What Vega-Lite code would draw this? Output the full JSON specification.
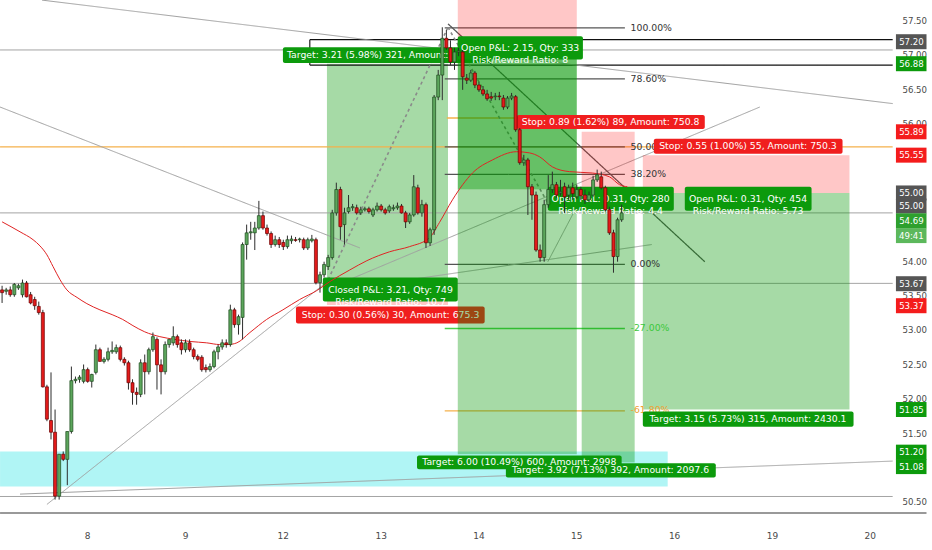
{
"$schema":"https://vega.github.io/schema/vega-lite/v6.json",
"width":898,"height":518,"autosize":{"type":"none"},"padding":{"left":0,"top":0,"right":34,"bottom":32},"background":"#ffffff",
"config":{"view":{"stroke":null},"font":"DejaVu Sans"},
"resolve":{"scale":{"fill":"independent","color":"independent","strokeWidth":"independent","strokeDash":"independent"}},
"datasets":{
"fills":[
{"t1":-0.5,"t2":163.3,"p1":51.24,"p2":50.73,"kind":"cyan","g":"A"},
{"t1":79.7,"t2":109.4,"p1":56.88,"p2":53.67,"kind":"green","g":"A"},
{"t1":79.7,"t2":109.4,"p1":53.67,"p2":53.37,"kind":"pink","g":"A"},
{"t1":111.8,"t2":141.0,"p1":57.805,"p2":57.25,"kind":"pink","g":"B"},
{"t1":111.8,"t2":141.0,"p1":57.25,"p2":55.05,"kind":"greenDark","g":"B"},
{"t1":111.8,"t2":141.0,"p1":55.05,"p2":51.20,"kind":"green","g":"B"},
{"t1":142.2,"t2":155.2,"p1":55.89,"p2":55.00,"kind":"pink","g":"B"},
{"t1":142.2,"t2":155.2,"p1":55.00,"p2":51.08,"kind":"green","g":"B"},
{"t1":157.2,"t2":207.9,"p1":55.55,"p2":55.00,"kind":"pink","g":"B"},
{"t1":157.2,"t2":207.9,"p1":55.00,"p2":51.85,"kind":"green","g":"B"}
],
"lines":[
{"t1":-0.5,"p1":53.685,"t2":218.5,"p2":53.685,"kind":"gray"},
{"t1":-0.5,"p1":54.71,"t2":218.5,"p2":54.71,"kind":"gray"},
{"t1":-0.5,"p1":57.08,"t2":218.5,"p2":57.08,"kind":"gray"},
{"t1":-0.5,"p1":50.585,"t2":218.5,"p2":50.585,"kind":"gray"},
{"t1":75.5,"p1":57.23,"t2":218.5,"p2":57.23,"kind":"black"},
{"t1":75.5,"p1":56.86,"t2":218.5,"p2":56.86,"kind":"black"},
{"t1":75.5,"p1":57.23,"t2":75.5,"p2":56.86,"kind":"black"},
{"t1":-0.5,"p1":55.67,"t2":218.5,"p2":55.67,"kind":"orange"},
{"t1":109.1,"p1":56.09,"t2":126.3,"p2":56.09,"kind":"orange"},
{"t1":108.6,"p1":57.40,"t2":152.8,"p2":57.40,"kind":"dark"},
{"t1":108.6,"p1":56.66,"t2":152.8,"p2":56.66,"kind":"dark"},
{"t1":108.6,"p1":55.67,"t2":152.8,"p2":55.67,"kind":"dark"},
{"t1":108.6,"p1":55.27,"t2":152.8,"p2":55.27,"kind":"dark"},
{"t1":108.6,"p1":53.96,"t2":152.8,"p2":53.96,"kind":"dark"},
{"t1":108.6,"p1":53.03,"t2":152.8,"p2":53.03,"kind":"fibgreen"},
{"t1":108.6,"p1":51.83,"t2":152.8,"p2":51.83,"kind":"orange"},
{"t1":9.8,"p1":57.805,"t2":218.5,"p2":56.30,"kind":"gray"},
{"t1":-0.5,"p1":56.25,"t2":87.8,"p2":54.20,"kind":"gray"},
{"t1":11.0,"p1":50.47,"t2":80.4,"p2":53.74,"kind":"gray"},
{"t1":79.2,"p1":53.59,"t2":185.9,"p2":56.25,"kind":"gray"},
{"t1":79.2,"p1":53.56,"t2":159.4,"p2":54.25,"kind":"gray"},
{"t1":109.4,"p1":57.46,"t2":172.4,"p2":54.00,"kind":"dark"},
{"t1":80.0,"p1":53.74,"t2":109.4,"p2":57.41,"kind":"dash"},
{"t1":109.4,"p1":57.41,"t2":134.9,"p2":54.75,"kind":"dash"},
{"t1":133.9,"p1":54.00,"t2":142.5,"p2":54.97,"kind":"gray"},
{"t1":4.4,"p1":50.62,"t2":218.5,"p2":51.10,"kind":"gray"}
],
"boxes":[
{"t1":68.9,"t2":119.9,"p1":57.12,"p2":56.89,"kind":"lg","g":"A"},
{"t1":78.7,"t2":111.8,"p1":53.77,"p2":53.42,"kind":"lg","g":"A"},
{"t1":72.1,"t2":118.4,"p1":53.35,"p2":53.10,"kind":"lr","g":"A"},
{"t1":111.8,"t2":142.5,"p1":57.28,"p2":56.94,"kind":"lg","g":"B"},
{"t1":126.3,"t2":172.4,"p1":56.135,"p2":55.93,"kind":"lr","g":"B"},
{"t1":159.9,"t2":206.2,"p1":55.79,"p2":55.57,"kind":"lr","g":"B"},
{"t1":133.9,"t2":164.8,"p1":55.09,"p2":54.74,"kind":"lg","g":"B"},
{"t1":167.5,"t2":198.6,"p1":55.09,"p2":54.74,"kind":"lg","g":"B"},
{"t1":157.2,"t2":208.9,"p1":51.82,"p2":51.60,"kind":"lg","g":"B"},
{"t1":101.8,"t2":152.0,"p1":51.18,"p2":50.98,"kind":"lg","g":"B"},
{"t1":123.6,"t2":175.1,"p1":51.07,"p2":50.86,"kind":"lg","g":"B"}
],
"texts":[
{"t":89.7,"p":57.005,"text":"Target: 3.21 (5.98%) 321, Amount:","g":"A"},
{"t":95.3,"p":53.595,"text":"Closed P&L: 3.21, Qty: 749\nRisk/Reward Ratio: 10.7","g":"A"},
{"t":95.3,"p":53.225,"text":"Stop: 0.30 (0.56%) 30, Amount: 675.3","g":"A"},
{"t":127.1,"p":57.11,"text":"Open P&L: 2.15, Qty: 333\nRisk/Reward Ratio: 8","g":"B"},
{"t":149.3,"p":56.03,"text":"Stop: 0.89 (1.62%) 89, Amount: 750.8","g":"B"},
{"t":183.0,"p":55.68,"text":"Stop: 0.55 (1.00%) 55, Amount: 750.3","g":"B"},
{"t":149.3,"p":54.915,"text":"Open P&L: 0.31, Qty: 280\nRisk/Reward Ratio: 4.4","g":"B"},
{"t":183.0,"p":54.915,"text":"Open P&L: 0.31, Qty: 454\nRisk/Reward Ratio: 5.73","g":"B"},
{"t":183.0,"p":51.71,"text":"Target: 3.15 (5.73%) 315, Amount: 2430.1","g":"B"},
{"t":126.9,"p":51.08,"text":"Target: 6.00 (10.49%) 600, Amount: 2998","g":"B"},
{"t":149.3,"p":50.965,"text":"Target: 3.92 (7.13%) 392, Amount: 2097.6","g":"B"}
],
"fib":[
{"p":57.40,"text":"100.00%","kind":"dark"},
{"p":56.66,"text":"78.60%","kind":"dark"},
{"p":55.67,"text":"50.00","kind":"dark"},
{"p":55.27,"text":"38.20%","kind":"dark"},
{"p":53.96,"text":"0.00%","kind":"dark"},
{"p":53.03,"text":"-27.00%","kind":"fibgreen"},
{"p":51.85,"text":"-61.80%","kind":"orange"}
],
"yticks":[{"p":50.5},{"p":51.5},{"p":52.0},{"p":52.5},{"p":53.0},{"p":53.5},{"p":54.0},{"p":56.0},{"p":56.5},{"p":57.0},{"p":57.5}],
"xticks":[{"t":21,"d":"8"},{"t":45,"d":"9"},{"t":69,"d":"12"},{"t":93,"d":"13"},{"t":117,"d":"14"},{"t":141,"d":"15"},{"t":165,"d":"16"},{"t":189,"d":"19"},{"t":213,"d":"20"}],
"plabels":[
{"p":57.20,"text":"57.20","kind":"gray"},
{"p":56.88,"text":"56.88","kind":"green"},
{"p":55.89,"text":"55.89","kind":"red"},
{"p":55.55,"text":"55.55","kind":"red"},
{"p":55.00,"text":"55.00","kind":"gray"},
{"p":54.81,"text":"55.00","kind":"gray"},
{"p":54.595,"text":"54.69","kind":"green2"},
{"p":54.38,"text":"49:41","kind":"green3"},
{"p":53.68,"text":"53.67","kind":"gray"},
{"p":53.36,"text":"53.37","kind":"red"},
{"p":51.85,"text":"51.85","kind":"green"},
{"p":51.23,"text":"51.20","kind":"green"},
{"p":51.02,"text":"51.08","kind":"green"}
],
"ma":[
{"t":0,"ma":54.58},{"t":4.4,"ma":54.435},{"t":7.6,"ma":54.32},{"t":9.3,"ma":54.23},{"t":11.0,"ma":54.10},{"t":12.5,"ma":53.93},{"t":14.2,"ma":53.74},{"t":15.9,"ma":53.59},{"t":18.4,"ma":53.48},{"t":20.8,"ma":53.39},{"t":24.0,"ma":53.30},{"t":27.0,"ma":53.23},{"t":29.6,"ma":53.16},{"t":32.1,"ma":53.07},{"t":35.0,"ma":52.98},{"t":38.7,"ma":52.91},{"t":42.4,"ma":52.87},{"t":46.1,"ma":52.84},{"t":50.2,"ma":52.82},{"t":53.4,"ma":52.795},{"t":55.4,"ma":52.795},{"t":57.6,"ma":52.82},{"t":60.8,"ma":52.97},{"t":64.9,"ma":53.16},{"t":68.9,"ma":53.30},{"t":73.0,"ma":53.45},{"t":77.2,"ma":53.58},{"t":80.4,"ma":53.71},{"t":85.3,"ma":53.88},{"t":89.5,"ma":54.015},{"t":95.1,"ma":54.145},{"t":100.0,"ma":54.22},{"t":104.9,"ma":54.35},{"t":107.3,"ma":54.57},{"t":110.5,"ma":54.90},{"t":113.0,"ma":55.12},{"t":115.4,"ma":55.29},{"t":120.3,"ma":55.48},{"t":126.2,"ma":55.60},{"t":129.4,"ma":55.583},{"t":131.9,"ma":55.525},{"t":135.0,"ma":55.38},{"t":139.2,"ma":55.31},{"t":144.8,"ma":55.29},{"t":149.0,"ma":55.235},{"t":151.5,"ma":55.12},{"t":153.4,"ma":55.09}
],
"candles":[
{"t":0,"o":53.59,"h":53.65,"l":53.40,"c":53.55},
{"t":1,"o":53.57,"h":53.62,"l":53.52,"c":53.59},
{"t":2,"o":53.59,"h":53.64,"l":53.49,"c":53.52},
{"t":3,"o":53.52,"h":53.69,"l":53.49,"c":53.67},
{"t":4,"o":53.62,"h":53.68,"l":53.59,"c":53.65},
{"t":5,"o":53.52,"h":53.74,"l":53.48,"c":53.69},
{"t":6,"o":53.69,"h":53.72,"l":53.48,"c":53.49},
{"t":7,"o":53.52,"h":53.56,"l":53.38,"c":53.40},
{"t":8,"o":53.45,"h":53.49,"l":53.30,"c":53.36},
{"t":9,"o":53.35,"h":53.42,"l":53.23,"c":53.26},
{"t":10,"o":53.26,"h":53.30,"l":52.17,"c":52.18},
{"t":11,"o":52.18,"h":52.21,"l":51.68,"c":51.71},
{"t":12,"o":51.69,"h":52.39,"l":51.415,"c":51.52},
{"t":13,"o":51.52,"h":51.85,"l":50.54,"c":50.59},
{"t":14,"o":50.59,"h":51.20,"l":50.54,"c":51.20},
{"t":15,"o":51.20,"h":51.24,"l":51.10,"c":51.125},
{"t":16,"o":51.125,"h":51.53,"l":50.75,"c":51.53},
{"t":17,"o":51.53,"h":52.475,"l":51.50,"c":52.27},
{"t":18,"o":52.27,"h":52.33,"l":52.23,"c":52.29},
{"t":19,"o":52.29,"h":52.35,"l":52.24,"c":52.32},
{"t":20,"o":52.26,"h":52.505,"l":52.23,"c":52.43},
{"t":21,"o":52.43,"h":52.46,"l":52.24,"c":52.26},
{"t":22,"o":52.26,"h":52.37,"l":52.17,"c":52.36},
{"t":23,"o":52.39,"h":52.795,"l":52.36,"c":52.72},
{"t":24,"o":52.72,"h":52.75,"l":52.55,"c":52.55},
{"t":25,"o":52.55,"h":52.61,"l":52.52,"c":52.58},
{"t":26,"o":52.58,"h":52.75,"l":52.55,"c":52.69},
{"t":27,"o":52.69,"h":52.84,"l":52.66,"c":52.71},
{"t":28,"o":52.69,"h":52.795,"l":52.66,"c":52.75},
{"t":29,"o":52.75,"h":52.78,"l":52.55,"c":52.58},
{"t":30,"o":52.58,"h":52.61,"l":52.49,"c":52.53},
{"t":31,"o":52.53,"h":52.56,"l":52.14,"c":52.24},
{"t":32,"o":52.24,"h":52.29,"l":51.92,"c":52.10},
{"t":33,"o":52.10,"h":52.17,"l":51.92,"c":52.07},
{"t":34,"o":52.07,"h":52.58,"l":52.03,"c":52.53},
{"t":35,"o":52.53,"h":52.65,"l":52.07,"c":52.40},
{"t":36,"o":52.40,"h":52.75,"l":52.36,"c":52.72},
{"t":37,"o":52.72,"h":52.97,"l":52.69,"c":52.91},
{"t":38,"o":52.87,"h":52.90,"l":52.14,"c":52.50},
{"t":39,"o":52.50,"h":52.58,"l":52.07,"c":52.40},
{"t":40,"o":52.40,"h":52.84,"l":52.36,"c":52.795},
{"t":41,"o":52.795,"h":52.87,"l":52.75,"c":52.87},
{"t":42,"o":52.82,"h":53.06,"l":52.78,"c":52.91},
{"t":43,"o":52.91,"h":52.94,"l":52.75,"c":52.795},
{"t":44,"o":52.82,"h":52.87,"l":52.65,"c":52.72},
{"t":45,"o":52.72,"h":52.87,"l":52.68,"c":52.82},
{"t":46,"o":52.82,"h":52.87,"l":52.69,"c":52.72},
{"t":47,"o":52.72,"h":52.75,"l":52.58,"c":52.62},
{"t":48,"o":52.62,"h":52.65,"l":52.55,"c":52.58},
{"t":49,"o":52.61,"h":52.64,"l":52.40,"c":52.43},
{"t":50,"o":52.46,"h":52.505,"l":52.39,"c":52.43},
{"t":51,"o":52.43,"h":52.52,"l":52.40,"c":52.475},
{"t":52,"o":52.475,"h":52.72,"l":52.45,"c":52.69},
{"t":53,"o":52.69,"h":52.795,"l":52.58,"c":52.76},
{"t":54,"o":52.76,"h":52.87,"l":52.72,"c":52.82},
{"t":55,"o":52.82,"h":52.87,"l":52.75,"c":52.795},
{"t":56,"o":52.795,"h":53.375,"l":52.765,"c":53.30},
{"t":57,"o":53.30,"h":53.33,"l":53.04,"c":53.085},
{"t":58,"o":53.085,"h":53.23,"l":52.94,"c":53.20},
{"t":59,"o":53.19,"h":54.28,"l":52.87,"c":54.25},
{"t":60,"o":54.25,"h":54.54,"l":54.03,"c":54.42},
{"t":61,"o":54.42,"h":54.58,"l":54.32,"c":54.435},
{"t":62,"o":54.42,"h":54.58,"l":54.17,"c":54.49},
{"t":63,"o":54.49,"h":54.885,"l":54.465,"c":54.67},
{"t":64,"o":54.67,"h":54.73,"l":54.465,"c":54.49},
{"t":65,"o":54.49,"h":54.54,"l":54.38,"c":54.41},
{"t":66,"o":54.41,"h":54.44,"l":54.20,"c":54.25},
{"t":67,"o":54.25,"h":54.38,"l":54.22,"c":54.32},
{"t":68,"o":54.32,"h":54.36,"l":54.20,"c":54.25},
{"t":69,"o":54.28,"h":54.32,"l":54.17,"c":54.22},
{"t":70,"o":54.22,"h":54.38,"l":54.19,"c":54.32},
{"t":71,"o":54.305,"h":54.38,"l":54.26,"c":54.33},
{"t":72,"o":54.32,"h":54.36,"l":54.29,"c":54.31},
{"t":73,"o":54.32,"h":54.35,"l":54.28,"c":54.33},
{"t":74,"o":54.32,"h":54.35,"l":54.17,"c":54.20},
{"t":75,"o":54.20,"h":54.35,"l":54.17,"c":54.32},
{"t":76,"o":54.305,"h":54.39,"l":54.28,"c":54.33},
{"t":77,"o":54.32,"h":54.35,"l":53.67,"c":53.695},
{"t":78,"o":53.695,"h":53.855,"l":53.55,"c":53.81},
{"t":79,"o":53.81,"h":54.00,"l":53.77,"c":53.96},
{"t":80,"o":53.93,"h":54.10,"l":53.88,"c":54.06},
{"t":81,"o":54.06,"h":54.755,"l":54.03,"c":54.71},
{"t":82,"o":54.71,"h":55.15,"l":54.67,"c":55.05},
{"t":83,"o":55.05,"h":55.09,"l":54.32,"c":54.51},
{"t":84,"o":54.54,"h":54.785,"l":54.25,"c":54.71},
{"t":85,"o":54.73,"h":54.97,"l":54.70,"c":54.785},
{"t":86,"o":54.785,"h":54.84,"l":54.74,"c":54.80},
{"t":87,"o":54.785,"h":54.83,"l":54.685,"c":54.71},
{"t":88,"o":54.71,"h":54.80,"l":54.68,"c":54.755},
{"t":89,"o":54.755,"h":54.80,"l":54.73,"c":54.77},
{"t":90,"o":54.77,"h":54.80,"l":54.70,"c":54.73},
{"t":91,"o":54.68,"h":54.785,"l":54.65,"c":54.755},
{"t":92,"o":54.755,"h":54.86,"l":54.73,"c":54.81},
{"t":93,"o":54.81,"h":54.84,"l":54.73,"c":54.755},
{"t":94,"o":54.755,"h":54.785,"l":54.685,"c":54.71},
{"t":95,"o":54.74,"h":54.83,"l":54.71,"c":54.80},
{"t":96,"o":54.77,"h":54.83,"l":54.74,"c":54.785},
{"t":97,"o":54.785,"h":54.86,"l":54.755,"c":54.81},
{"t":98,"o":54.81,"h":54.84,"l":54.70,"c":54.71},
{"t":99,"o":54.71,"h":54.74,"l":54.49,"c":54.58},
{"t":100,"o":54.58,"h":54.71,"l":54.55,"c":54.68},
{"t":101,"o":54.68,"h":55.26,"l":54.655,"c":55.09},
{"t":102,"o":55.075,"h":55.12,"l":54.685,"c":54.71},
{"t":103,"o":54.71,"h":54.90,"l":54.655,"c":54.83},
{"t":104,"o":54.83,"h":54.86,"l":54.20,"c":54.275},
{"t":105,"o":54.275,"h":54.495,"l":54.23,"c":54.465},
{"t":106,"o":54.465,"h":56.425,"l":54.39,"c":56.395},
{"t":107,"o":56.395,"h":56.79,"l":56.35,"c":56.715},
{"t":108,"o":56.715,"h":57.41,"l":56.35,"c":57.25},
{"t":109,"o":57.25,"h":57.37,"l":57.08,"c":57.11},
{"t":110,"o":57.11,"h":57.22,"l":56.86,"c":56.905},
{"t":111,"o":56.905,"h":57.11,"l":56.79,"c":57.05},
{"t":112,"o":57.05,"h":57.11,"l":56.99,"c":57.065},
{"t":113,"o":57.05,"h":57.08,"l":56.50,"c":56.69},
{"t":114,"o":56.67,"h":56.73,"l":56.585,"c":56.64},
{"t":115,"o":56.64,"h":56.79,"l":56.615,"c":56.745},
{"t":116,"o":56.745,"h":56.775,"l":56.525,"c":56.57},
{"t":117,"o":56.57,"h":56.615,"l":56.47,"c":56.50},
{"t":118,"o":56.50,"h":56.555,"l":56.41,"c":56.44},
{"t":119,"o":56.44,"h":56.50,"l":56.34,"c":56.37},
{"t":120,"o":56.40,"h":56.47,"l":56.34,"c":56.38},
{"t":121,"o":56.40,"h":56.455,"l":56.35,"c":56.41},
{"t":122,"o":56.41,"h":56.47,"l":56.35,"c":56.40},
{"t":123,"o":56.38,"h":56.425,"l":56.21,"c":56.25},
{"t":124,"o":56.25,"h":56.41,"l":56.22,"c":56.38},
{"t":125,"o":56.38,"h":56.455,"l":56.35,"c":56.41},
{"t":126,"o":56.40,"h":56.425,"l":55.89,"c":55.92},
{"t":127,"o":55.92,"h":55.945,"l":55.41,"c":55.44},
{"t":128,"o":55.44,"h":55.555,"l":55.395,"c":55.48},
{"t":129,"o":55.48,"h":55.51,"l":54.68,"c":55.09},
{"t":130,"o":55.09,"h":55.13,"l":54.61,"c":54.97},
{"t":131,"o":54.97,"h":55.02,"l":54.145,"c":54.17},
{"t":132,"o":54.17,"h":54.25,"l":54.00,"c":54.06},
{"t":133,"o":54.06,"h":54.90,"l":54.00,"c":54.83},
{"t":134,"o":54.83,"h":55.26,"l":54.785,"c":55.05},
{"t":135,"o":55.05,"h":55.31,"l":55.00,"c":55.12},
{"t":136,"o":55.12,"h":55.16,"l":54.93,"c":54.97},
{"t":137,"o":55.00,"h":55.19,"l":54.96,"c":55.02},
{"t":138,"o":55.09,"h":55.15,"l":54.71,"c":54.945},
{"t":139,"o":54.97,"h":55.12,"l":54.90,"c":55.075},
{"t":140,"o":55.075,"h":55.15,"l":54.90,"c":54.99},
{"t":141,"o":54.945,"h":55.12,"l":54.915,"c":55.05},
{"t":142,"o":55.05,"h":55.09,"l":54.90,"c":54.96},
{"t":143,"o":54.97,"h":55.05,"l":54.84,"c":54.90},
{"t":144,"o":54.90,"h":55.02,"l":54.87,"c":54.97},
{"t":145,"o":54.97,"h":55.25,"l":54.945,"c":55.19},
{"t":146,"o":55.19,"h":55.34,"l":55.16,"c":55.265},
{"t":147,"o":55.235,"h":55.31,"l":55.05,"c":55.075},
{"t":148,"o":55.075,"h":55.105,"l":54.73,"c":54.755},
{"t":149,"o":54.755,"h":54.80,"l":54.39,"c":54.42},
{"t":150,"o":54.42,"h":54.465,"l":53.84,"c":54.075},
{"t":151,"o":54.075,"h":54.64,"l":54.00,"c":54.61},
{"t":152,"o":54.61,"h":54.83,"l":54.58,"c":54.71}
]
},
"layer":[
{"data":{"name":"fills"},"transform":[{"filter":"datum.g=='A'"}],"mark":{"type":"rect"},
 "encoding":{
  "x":{"field":"t1","type":"quantitative","scale":{"domain":[0.714,218.58],"nice":false,"zero":false},"axis":null},
  "x2":{"field":"t2"},
  "y":{"field":"p1","type":"quantitative","scale":{"domain":[50.345,57.734],"nice":false,"zero":false},"axis":null},
  "y2":{"field":"p2"},
  "fill":{"field":"kind","type":"nominal","scale":{"domain":["cyan","green","greenDark","pink"],"range":["#b0f5f5","rgba(0,150,0,0.35)","rgba(0,150,0,0.6)","rgba(255,0,0,0.22)"]},"legend":null}
 }},
{"data":{"name":"lines"},"mark":{"type":"rule"},
 "encoding":{
  "x":{"field":"t1","type":"quantitative","scale":{"domain":[0.714,218.58],"nice":false,"zero":false},"axis":null},
  "x2":{"field":"t2"},
  "y":{"field":"p1","type":"quantitative","scale":{"domain":[50.345,57.734],"nice":false,"zero":false},"axis":null},
  "y2":{"field":"p2"},
  "color":{"field":"kind","type":"nominal","scale":{"domain":["gray","black","dark","orange","fibgreen","dash"],"range":["#a0a0a0","#111111","#555555","#f5b04a","#4cd14c","#8a8a8a"]},"legend":null},
  "strokeWidth":{"field":"kind","type":"nominal","scale":{"domain":["gray","black","dark","orange","fibgreen","dash"],"range":[1,1.6,1,1,1,1]},"legend":null},
  "strokeDash":{"field":"kind","type":"nominal","scale":{"domain":["gray","black","dark","orange","fibgreen","dash"],"range":[[1,0],[1,0],[1,0],[1,0],[1,0],[3,3]]},"legend":null}
 }},
{"data":{"name":"boxes"},"transform":[{"filter":"datum.g=='A'"}],"mark":{"type":"rect","cornerRadius":2},
 "encoding":{
  "x":{"field":"t1","type":"quantitative","scale":{"domain":[0.714,218.58],"nice":false,"zero":false},"axis":null},
  "x2":{"field":"t2"},
  "y":{"field":"p1","type":"quantitative","scale":{"domain":[50.345,57.734],"nice":false,"zero":false},"axis":null},
  "y2":{"field":"p2"},
  "fill":{"field":"kind","type":"nominal","scale":{"domain":["lg","lr"],"range":["#0c9a0c","#f01e1e"]},"legend":null}
 }},
{"data":{"name":"texts"},"transform":[{"filter":"datum.g=='A'"}],"mark":{"type":"text","align":"center","baseline":"middle","fontSize":9.3,"font":"DejaVu Sans","color":"#ffffff","lineBreak":"\n","lineHeight":12},
 "encoding":{
  "x":{"field":"t","type":"quantitative","scale":{"domain":[0.714,218.58],"nice":false,"zero":false},"axis":null},
  "y":{"field":"p","type":"quantitative","scale":{"domain":[50.345,57.734],"nice":false,"zero":false},"axis":null},
  "text":{"field":"text"}
 }},
{"data":{"name":"fills"},"transform":[{"filter":"datum.g=='B'"}],"mark":{"type":"rect"},
 "encoding":{
  "x":{"field":"t1","type":"quantitative","scale":{"domain":[0.714,218.58],"nice":false,"zero":false},"axis":null},
  "x2":{"field":"t2"},
  "y":{"field":"p1","type":"quantitative","scale":{"domain":[50.345,57.734],"nice":false,"zero":false},"axis":null},
  "y2":{"field":"p2"},
  "fill":{"field":"kind","type":"nominal","scale":{"domain":["cyan","green","greenDark","pink"],"range":["#b0f5f5","rgba(0,150,0,0.35)","rgba(0,150,0,0.6)","rgba(255,0,0,0.22)"]},"legend":null}
 }},
{"data":{"name":"fib"},"mark":{"type":"text","align":"left","baseline":"middle","fontSize":9.3,"font":"DejaVu Sans"},
 "encoding":{
  "x":{"datum":154.2,"type":"quantitative","scale":{"domain":[0.714,218.58],"nice":false,"zero":false},"axis":null},
  "y":{"field":"p","type":"quantitative","scale":{"domain":[50.345,57.734],"nice":false,"zero":false},"axis":null},
  "text":{"field":"text"},
  "color":{"field":"kind","type":"nominal","scale":{"domain":["dark","fibgreen","orange"],"range":["#333333","#3cc83c","#f0a030"]},"legend":null}
 }},
{"data":{"name":"boxes"},"transform":[{"filter":"datum.g=='B'"}],"mark":{"type":"rect","cornerRadius":2},
 "encoding":{
  "x":{"field":"t1","type":"quantitative","scale":{"domain":[0.714,218.58],"nice":false,"zero":false},"axis":null},
  "x2":{"field":"t2"},
  "y":{"field":"p1","type":"quantitative","scale":{"domain":[50.345,57.734],"nice":false,"zero":false},"axis":null},
  "y2":{"field":"p2"},
  "fill":{"field":"kind","type":"nominal","scale":{"domain":["lg","lr"],"range":["#0c9a0c","#f01e1e"]},"legend":null}
 }},
{"data":{"name":"texts"},"transform":[{"filter":"datum.g=='B'"}],"mark":{"type":"text","align":"center","baseline":"middle","fontSize":9.3,"font":"DejaVu Sans","color":"#ffffff","lineBreak":"\n","lineHeight":12},
 "encoding":{
  "x":{"field":"t","type":"quantitative","scale":{"domain":[0.714,218.58],"nice":false,"zero":false},"axis":null},
  "y":{"field":"p","type":"quantitative","scale":{"domain":[50.345,57.734],"nice":false,"zero":false},"axis":null},
  "text":{"field":"text"}
 }},
{"data":{"name":"ma"},"mark":{"type":"line","color":"#e02424","strokeWidth":1,"interpolate":"monotone"},
 "encoding":{
  "x":{"field":"t","type":"quantitative","scale":{"domain":[0.714,218.58],"nice":false,"zero":false},"axis":null},
  "y":{"field":"ma","type":"quantitative","scale":{"domain":[50.345,57.734],"nice":false,"zero":false},"axis":null}
 }},
{"data":{"name":"candles"},"mark":{"type":"rule","color":"#2d2d2d","strokeWidth":1},
 "encoding":{
  "x":{"field":"t","type":"quantitative","scale":{"domain":[0.714,218.58],"nice":false,"zero":false},"axis":null},
  "y":{"field":"l","type":"quantitative","scale":{"domain":[50.345,57.734],"nice":false,"zero":false},"axis":null},
  "y2":{"field":"h"}
 }},
{"data":{"name":"candles"},"mark":{"type":"bar","size":3,"strokeWidth":0.7,"orient":"vertical"},
 "encoding":{
  "x":{"field":"t","type":"quantitative","scale":{"domain":[0.714,218.58],"nice":false,"zero":false},"axis":null},
  "y":{"field":"o","type":"quantitative","scale":{"domain":[50.345,57.734],"nice":false,"zero":false},"axis":null},
  "y2":{"field":"c"},
  "fill":{"condition":{"test":"datum.c >= datum.o","value":"#5ca65c"},"value":"#e31b1b"},
  "stroke":{"condition":{"test":"datum.c >= datum.o","value":"#1d4a1d"},"value":"#6a0000"}
 }},
{"data":{"values":[{}]},"mark":{"type":"rule","color":"#999999","strokeWidth":2},
 "encoding":{
  "x":{"datum":-0.5,"type":"quantitative","scale":{"domain":[0.714,218.58],"nice":false,"zero":false},"axis":null},
  "x2":{"datum":226.8},
  "y":{"datum":50.345,"type":"quantitative","scale":{"domain":[50.345,57.734],"nice":false,"zero":false},"axis":null}
 }},
{"data":{"name":"yticks"},"mark":{"type":"text","align":"left","baseline":"middle","fontSize":8.6,"font":"DejaVu Sans","color":"#4a4a4a"},
 "encoding":{
  "x":{"datum":220.9,"type":"quantitative","scale":{"domain":[0.714,218.58],"nice":false,"zero":false},"axis":null},
  "y":{"field":"p","type":"quantitative","scale":{"domain":[50.345,57.734],"nice":false,"zero":false},"axis":null},
  "text":{"field":"p","type":"quantitative","format":".2f"}
 }},
{"data":{"name":"xticks"},"mark":{"type":"text","align":"center","baseline":"middle","fontSize":9,"font":"DejaVu Sans","color":"#4a4a4a"},
 "encoding":{
  "x":{"field":"t","type":"quantitative","scale":{"domain":[0.714,218.58],"nice":false,"zero":false},"axis":null},
  "y":{"datum":50.005,"type":"quantitative","scale":{"domain":[50.345,57.734],"nice":false,"zero":false},"axis":null},
  "text":{"field":"d"}
 }},
{"data":{"name":"plabels"},"mark":{"type":"bar","orient":"horizontal","size":15},
 "encoding":{
  "x":{"datum":219.3,"type":"quantitative","scale":{"domain":[0.714,218.58],"nice":false,"zero":false},"axis":null},
  "x2":{"datum":226.8},
  "y":{"field":"p","type":"quantitative","scale":{"domain":[50.345,57.734],"nice":false,"zero":false},"axis":null},
  "fill":{"field":"kind","type":"nominal","scale":{"domain":["gray","green","green2","green3","red"],"range":["#555555","#0c9a0c","#2ea02e","#5cb85c","#f41c1c"]},"legend":null}
 }},
{"data":{"name":"plabels"},"mark":{"type":"text","align":"center","baseline":"middle","fontSize":8.6,"font":"DejaVu Sans","color":"#ffffff"},
 "encoding":{
  "x":{"datum":223.1,"type":"quantitative","scale":{"domain":[0.714,218.58],"nice":false,"zero":false},"axis":null},
  "y":{"field":"p","type":"quantitative","scale":{"domain":[50.345,57.734],"nice":false,"zero":false},"axis":null},
  "text":{"field":"text"}
 }}
]
}
